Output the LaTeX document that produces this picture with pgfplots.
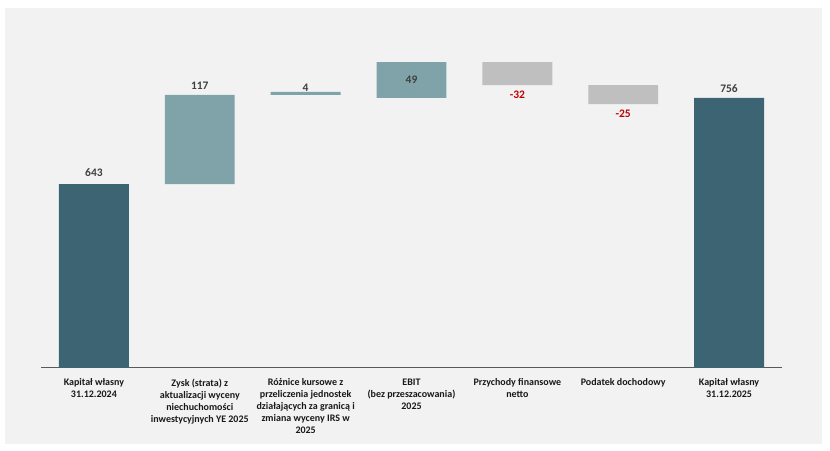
\documentclass[border=0pt]{standalone}
\usepackage{fontspec}
\setmainfont{Carlito}
\usepackage{pgfplots}
\pgfplotsset{compat=1.18}
\definecolor{darkteal}{HTML}{3D6473}
\definecolor{midteal}{HTML}{7FA3A8}
\definecolor{lgray}{HTML}{BFBFBF}
\definecolor{bg}{HTML}{F2F2F2}
\definecolor{lbl}{HTML}{404040}
\definecolor{neg}{HTML}{C00000}
\tikzset{vlabel/.style={font=\fontsize{11.5}{13}\selectfont\bfseries, text=lbl}}
\begin{document}
\begin{tikzpicture}
\fill[white] (0pt,0pt) rectangle (830pt,-450pt);
\fill[bg] (5pt,-8pt) rectangle (822pt,-444pt);
\begin{axis}[
  at={(41pt,-367pt)}, anchor=south west,
  scale only axis, width=741pt, height=347pt,
  xmin=-0.5, xmax=6.5, ymin=400, ymax=860.77,
  ybar stacked, bar width=0.66,
  axis x line=bottom, axis y line=none,
  x axis line style={-, draw=black!65, line width=0.9pt},
  xtick={0,...,6}, xtick style={draw=none}, ytick=\empty,
  xticklabels={
    {Kapitał własny\\31.12.2024},
    {Zysk (strata) z\\aktualizacji wyceny\\niechuchomości\\inwestycyjnych YE 2025},
    {Różnice kursowe z\\przeliczenia jednostek\\działających za granicą i\\zmiana wyceny IRS w\\2025},
    {EBIT\\(bez przeszacowania)\\2025},
    {Przychody finansowe\\netto},
    {Podatek dochodowy},
    {Kapitał własny\\31.12.2025}},
  xticklabel style={align=center, font=\fontsize{10}{12}\selectfont\bfseries, text=black!90, anchor=north, yshift=-6pt},
]
% invisible base
\addplot[draw=none, fill=none] coordinates {(0,0) (1,643) (2,761.2) (3,757.2) (4,774.4) (5,749.2) (6,0)};
% totals
\addplot[draw=none, fill=darkteal] coordinates {(0,643) (1,0) (2,0) (3,0) (4,0) (5,0) (6,757.2)};
% increases
\addplot[draw=none, fill=midteal] coordinates {(0,0) (1,118.2) (2,4) (3,47.8) (4,0) (5,0) (6,0)};
% decreases
\addplot[draw=none, fill=lgray] coordinates {(0,0) (1,0) (2,0) (3,0) (4,30.6) (5,25.2) (6,0)};

\coordinate (L0) at (axis cs:0,657.6);
\coordinate (L1) at (axis cs:1,773.1);
\coordinate (L2) at (axis cs:2,770.5);
\coordinate (L3) at (axis cs:3,781.1);
\coordinate (L4) at (axis cs:4,761.2);
\coordinate (L5) at (axis cs:5,736);
\coordinate (L6) at (axis cs:6,769.1);
\end{axis}
\node[vlabel] at (L0) {643};
\node[vlabel] at (L1) {117};
\node[vlabel] at (L2) {4};
\node[vlabel] at (L3) {49};
\node[vlabel, text=neg] at (L4) {-32};
\node[vlabel, text=neg] at (L5) {-25};
\node[vlabel] at (L6) {756};
\end{tikzpicture}
\end{document}
